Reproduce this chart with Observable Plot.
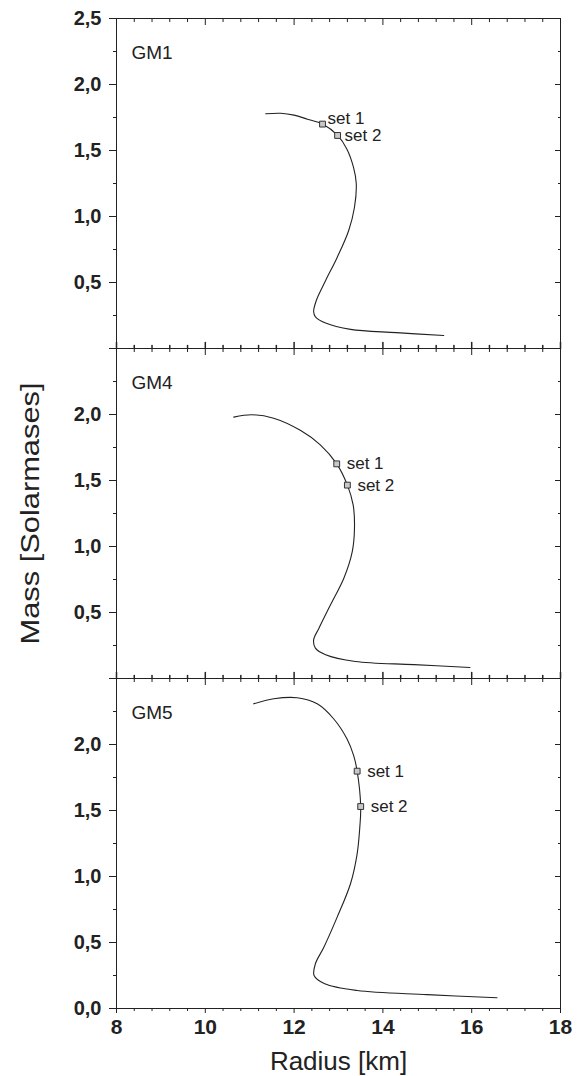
<!DOCTYPE html>
<html><head><meta charset="utf-8">
<script src="https://cdn.jsdelivr.net/npm/d3@7"></script>
<script src="https://cdn.jsdelivr.net/npm/@observablehq/plot@0.6"></script>
<style>body{margin:0;background:#fff;}</style>
</head><body><div id="chart"></div>
<script>
// ---- data ----
const panels = ["GM1", "GM4", "GM5"];

const gm1Radius = [11.36, 11.70, 12.00, 12.30, 12.64, 12.98, 13.19, 13.34, 13.40, 13.36, 13.23, 12.97, 12.71, 12.50, 12.44, 12.48, 12.71, 13.27, 14.30, 15.37];
const gm1Mass   = [1.778, 1.782, 1.768, 1.737, 1.700, 1.614, 1.510, 1.370, 1.250, 1.070, 0.894, 0.690, 0.515, 0.364, 0.280, 0.240, 0.193, 0.145, 0.120, 0.098];

const gm4Radius = [10.64, 11.05, 11.54, 12.14, 12.59, 12.96, 13.20, 13.33, 13.36, 13.31, 13.12, 12.82, 12.56, 12.44, 12.48, 12.71, 13.38, 14.70, 15.96];
const gm4Mass   = [1.980, 1.998, 1.972, 1.880, 1.770, 1.626, 1.465, 1.316, 1.139, 0.962, 0.760, 0.558, 0.381, 0.293, 0.230, 0.180, 0.129, 0.105, 0.083];

const gm5Radius = [11.09, 11.54, 12.07, 12.52, 12.89, 13.19, 13.34, 13.42, 13.50, 13.48, 13.42, 13.27, 12.97, 12.67, 12.48, 12.45, 12.69, 13.42, 15.00, 16.57];
const gm5Mass   = [2.308, 2.346, 2.354, 2.308, 2.195, 2.043, 1.917, 1.798, 1.530, 1.374, 1.172, 0.945, 0.692, 0.464, 0.339, 0.250, 0.187, 0.136, 0.105, 0.081];

const setLabels = ["set 1", "set 2"];
const gm1SetRadius = [12.64, 12.98];
const gm1SetMass   = [1.700, 1.614];
const gm4SetRadius = [12.96, 13.20];
const gm4SetMass   = [1.626, 1.465];
const gm5SetRadius = [13.42, 13.50];
const gm5SetMass   = [1.798, 1.530];

const xMajorTicks = [8, 10, 12, 14, 16, 18];
const xMinorTicks = [8.4, 8.8, 9.2, 9.6, 10.4, 10.8, 11.2, 11.6, 12.4, 12.8, 13.2, 13.6, 14.4, 14.8, 15.2, 15.6, 16.4, 16.8, 17.2, 17.6];
const yMajorTicks = [0, 0.5, 1.0, 1.5, 2.0, 2.5];
const yMinorTicks = [0.25, 0.75, 1.25, 1.75, 2.25];
const gm1YLabels = [0.5, 1.0, 1.5, 2.0, 2.5];
const gm4YLabels = [0.5, 1.0, 1.5, 2.0];
const gm5YLabels = [0.0, 0.5, 1.0, 1.5, 2.0];

const xTitle = "Radius [km]";
const yTitle = "Mass [Solarmases]";

// ---- tables ----
const radii = [gm1Radius, gm4Radius, gm5Radius];
const masses = [gm1Mass, gm4Mass, gm5Mass];
const setR = [gm1SetRadius, gm4SetRadius, gm5SetRadius];
const setM = [gm1SetMass, gm4SetMass, gm5SetMass];
const yLabs = [gm1YLabels, gm4YLabels, gm5YLabels];

const curve = panels.flatMap((p, i) => radii[i].map((r, j) => ({panel: p, r, m: masses[i][j]})));
const sets = panels.flatMap((p, i) => setLabels.map((s, j) => ({panel: p, label: s, r: setR[i][j], m: setM[i][j]})));
const yLabelRows = panels.flatMap((p, i) => yLabs[i].map(v => ({panel: p, v})));
const innerMajor = panels.slice(0, 2).flatMap(p => xMajorTicks.map(v => ({panel: p, v})));
const innerMinor = panels.slice(0, 2).flatMap(p => xMinorTicks.map(v => ({panel: p, v})));

const ink = "#222";
const font = "'Liberation Sans', Arial, Helvetica, sans-serif";
const fmt = v => v.toFixed(1).replace(".", ",");
const blank = () => "";
const tickUp = {draw(ctx, l) { ctx.moveTo(0, 0); ctx.lineTo(0, -l); }};

const chart = Plot.plot({
  width: 584,
  height: 1076,
  marginLeft: 116,
  marginRight: 24,
  marginTop: 18,
  marginBottom: 68,
  style: {fontFamily: font, color: ink, background: "white", overflow: "visible"},
  x: {domain: [8, 18]},
  y: {domain: [0, 2.5]},
  fy: {domain: panels, padding: 0, axis: null, label: null},
  marks: [
    Plot.frame({stroke: ink, strokeWidth: 1}),
    // top ticks (inward)
    Plot.axisX({anchor: "top", facetAnchor: null, ticks: xMajorTicks, tickSize: 6, insetTop: 6, tickFormat: blank, label: null, stroke: ink}),
    Plot.axisX({anchor: "top", facetAnchor: null, ticks: xMinorTicks, tickSize: 3, insetTop: 3, tickFormat: blank, label: null, stroke: ink}),
    // inner boundary ticks pointing up
    Plot.vector(innerMajor, {x: "v", fy: "panel", frameAnchor: "bottom", length: 6, rotate: 0, anchor: "start", shape: tickUp, stroke: ink}),
    Plot.vector(innerMinor, {x: "v", fy: "panel", frameAnchor: "bottom", length: 3, rotate: 0, anchor: "start", shape: tickUp, stroke: ink}),
    // bottom axis
    Plot.axisX({anchor: "bottom", facetAnchor: "bottom", ticks: xMajorTicks, tickSize: 5, tickPadding: 6, tickFormat: d => String(d), label: null, fontSize: 21, fontWeight: "bold", stroke: ink}),
    Plot.axisX({anchor: "bottom", facetAnchor: "bottom", ticks: xMinorTicks, tickSize: 3, tickFormat: blank, label: null, stroke: ink}),
    // left ticks (outward)
    Plot.axisY({anchor: "left", facetAnchor: null, ticks: yMajorTicks, tickSize: 7, tickFormat: blank, label: null, stroke: ink}),
    Plot.axisY({anchor: "left", facetAnchor: null, ticks: yMinorTicks, tickSize: 3, tickFormat: blank, label: null, stroke: ink}),
    // right ticks (inward)
    Plot.axisY({anchor: "right", facetAnchor: null, ticks: yMajorTicks, tickSize: 6, insetRight: 6, tickFormat: blank, label: null, stroke: ink}),
    Plot.axisY({anchor: "right", facetAnchor: null, ticks: yMinorTicks, tickSize: 3, insetRight: 3, tickFormat: blank, label: null, stroke: ink}),
    // y tick labels per panel
    Plot.text(yLabelRows, {y: "v", fy: "panel", text: d => fmt(d.v), frameAnchor: "left", dx: -15, textAnchor: "end", lineAnchor: "middle", fontSize: 20, fontWeight: "bold", fill: ink}),
    // curves
    Plot.line(curve, {x: "r", y: "m", fy: "panel", z: "panel", curve: "catmull-rom", stroke: ink, strokeWidth: 1.1}),
    // markers
    Plot.dot(sets, {x: "r", y: "m", fy: "panel", symbol: "square", r: 3.3, fill: "#c8c8c8", stroke: "#333", strokeWidth: 1}),
    Plot.text(sets.filter(d => d.panel === "GM1" && d.label === "set 1"), {x: "r", y: "m", fy: "panel", text: "label", dx: 5, dy: -6, textAnchor: "start", fontSize: 17, fill: ink}),
    Plot.text(sets.filter(d => d.panel === "GM1" && d.label === "set 2"), {x: "r", y: "m", fy: "panel", text: "label", dx: 7, textAnchor: "start", fontSize: 17, fill: ink}),
    Plot.text(sets.filter(d => d.panel !== "GM1"), {x: "r", y: "m", fy: "panel", text: "label", dx: 10, textAnchor: "start", fontSize: 17, fill: ink}),
    // panel names
    Plot.text(panels.map(p => ({panel: p})), {fy: "panel", text: "panel", frameAnchor: "top-left", dx: 15, dy: 34, textAnchor: "start", lineAnchor: "middle", fontSize: 19, fill: ink}),
    // axis titles
    Plot.text([{panel: "GM4", t: yTitle}], {fy: "panel", text: "t", frameAnchor: "left", dx: -86, rotate: -90, textAnchor: "middle", lineAnchor: "middle", fontSize: 26, fill: ink}),
    Plot.text([{panel: "GM5", t: xTitle}], {fy: "panel", text: "t", frameAnchor: "bottom", dy: 53, textAnchor: "middle", lineAnchor: "middle", fontSize: 26, fill: ink})
  ]
});

document.getElementById("chart").appendChild(chart);
d3.select(chart).selectAll("text").filter(function() { return this.textContent === yTitle; })
  .attr("textLength", 262).attr("lengthAdjust", "spacingAndGlyphs");
</script>
</body></html>
